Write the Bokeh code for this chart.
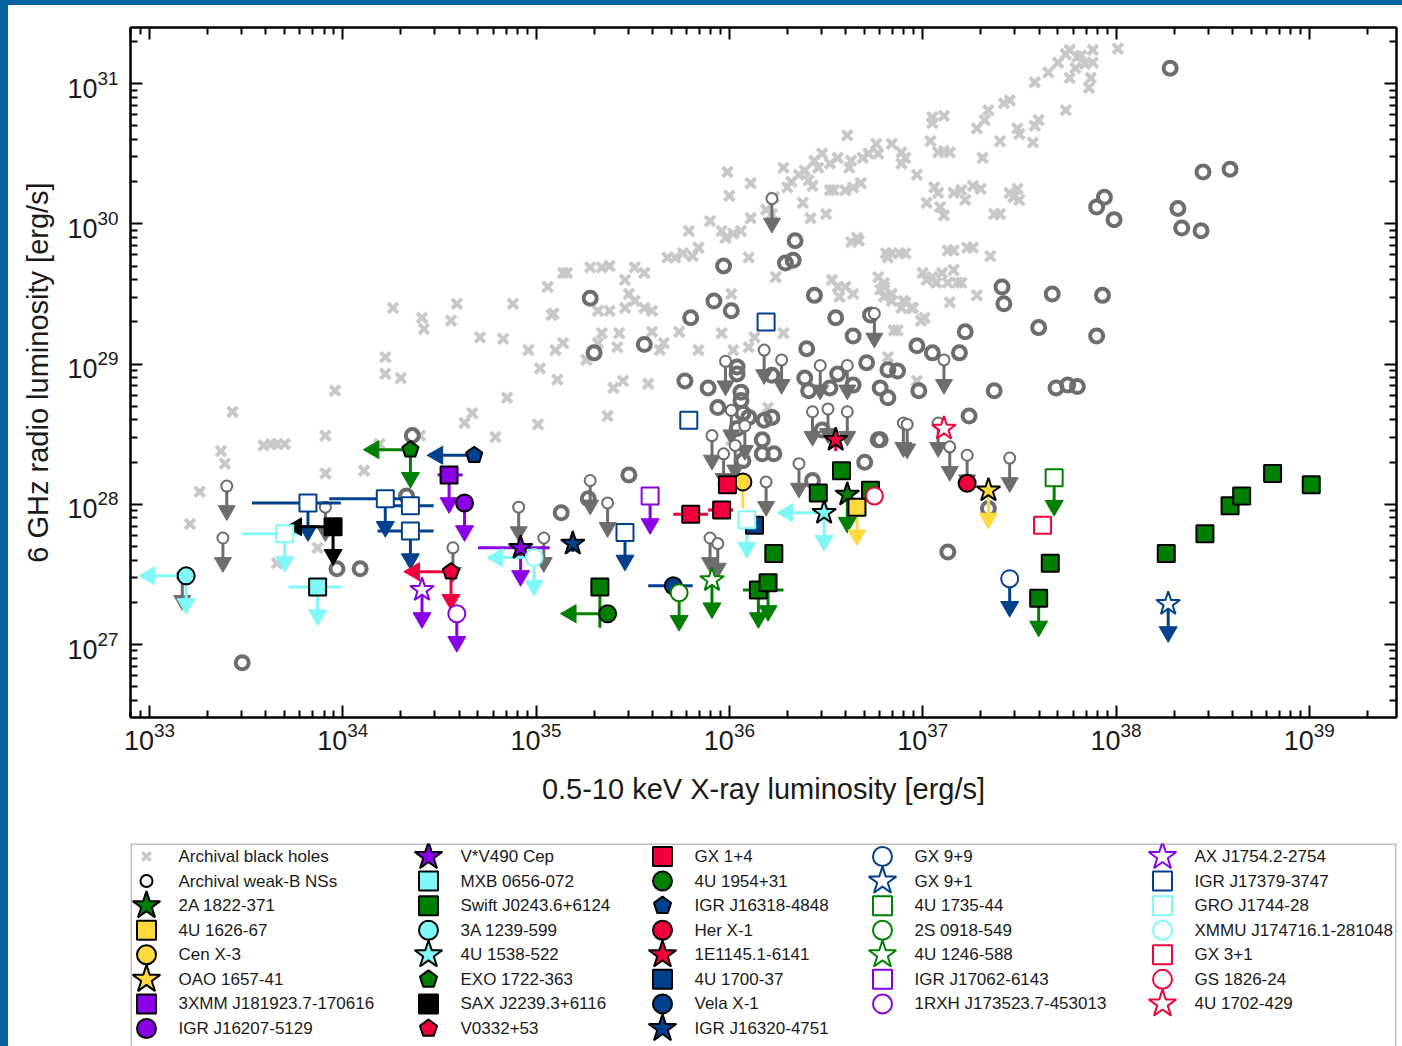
import numpy as np
from bokeh.plotting import figure
from bokeh.models import (Range1d, ColumnDataSource, LogAxis, FixedTicker,
                          CustomJSTickFormatter, Div)
from bokeh.layouts import column, row
from bokeh.core.properties import value
from bokeh.embed import file_html
from bokeh.resources import INLINE

FONT = "Liberation Sans"

# ---------------------------------------------------------------- axes
X_TICK_EXP = [33, 34, 35, 36, 37, 38, 39]
Y_TICK_EXP = [27, 28, 29, 30, 31]
X_LIM_LOG = (32.902, 39.451)
Y_LIM_LOG = (26.48, 31.40)
X_TITLE = "0.5-10 keV X-ray luminosity [erg/s]"
Y_TITLE = "6 GHz radio luminosity [erg/s]"

# ---------------------------------------------------------------- archival black holes (log Lx, log Lr)
BH_LOG_L = [
    (34.26, 29.40), (34.41, 29.33), (34.42, 29.25), (34.56, 29.31), (34.59, 29.43), (34.88, 29.43),
    (35.06, 29.55), (35.14, 29.65), (35.08, 29.35), (34.71, 29.19), (34.83, 29.18), (34.96, 29.10),
    (35.10, 29.10), (35.14, 29.15), (35.02, 28.97), (35.11, 28.89), (34.22, 29.05), (34.22, 28.93),
    (34.30, 28.90), (33.96, 28.81), (34.85, 28.76), (34.67, 28.65), (34.63, 28.58), (35.01, 28.57),
    (34.79, 28.48), (33.43, 28.66), (33.91, 28.49), (33.37, 28.38), (33.39, 28.29), (33.59, 28.42),
    (33.63, 28.43), (33.66, 28.43), (33.70, 28.43), (33.91, 28.22), (34.11, 28.24), (33.26, 28.09),
    (33.21, 27.86), (34.19, 28.43), (34.40, 28.49), (33.87, 27.69), (33.66, 27.58),
    (38.01, 31.25), (37.74, 31.21), (37.76, 31.24), (37.82, 31.20), (37.88, 31.24), (37.84, 31.14),
    (37.88, 31.15), (37.76, 31.04), (37.87, 31.04), (37.86, 30.97), (37.70, 31.15), (37.65, 31.08),
    (37.58, 31.01), (37.74, 30.81), (37.80, 31.19), (37.79, 31.11), (37.45, 30.88), (37.42, 30.86),
    (37.34, 30.81), (37.28, 30.68), (37.32, 30.74), (37.49, 30.68), (37.50, 30.64), (37.58, 30.70),
    (37.60, 30.74), (37.57, 30.58), (37.40, 30.59), (37.31, 30.47), (37.05, 30.76), (37.11, 30.77),
    (37.05, 30.72), (37.04, 30.59), (37.11, 30.52), (37.08, 30.51), (37.14, 30.51), (37.49, 30.25),
    (37.50, 30.17), (37.47, 30.19), (37.40, 30.07), (37.26, 30.27), (37.30, 30.25), (37.20, 30.24),
    (37.16, 30.22), (37.06, 30.26), (37.08, 30.22), (37.02, 30.15), (37.09, 30.12), (37.11, 30.06),
    (37.22, 30.17), (36.97, 30.35), (36.84, 30.57), (36.89, 30.51), (36.91, 30.47), (36.89, 30.43),
    (36.76, 30.57), (36.77, 30.50), (36.72, 30.50), (36.69, 30.47), (36.63, 30.45), (36.62, 30.40),
    (36.56, 30.47), (36.52, 30.43), (36.54, 30.24), (36.60, 30.24), (36.64, 30.26), (36.68, 30.29),
    (36.52, 30.24), (36.61, 30.63), (36.48, 30.50), (36.44, 30.45), (36.46, 30.40), (36.39, 30.38),
    (36.36, 30.35), (36.41, 30.31), (36.43, 30.27), (36.32, 30.30), (36.30, 30.26), (36.28, 30.40),
    (36.23, 30.19), (36.19, 30.10), (36.22, 30.07), (36.38, 30.15), (36.42, 30.04), (36.50, 30.07),
    (36.11, 30.29), (36.00, 30.20), (35.99, 30.37), (36.11, 30.04), (36.10, 29.76), (36.02, 29.93),
    (35.98, 29.90), (35.96, 29.95), (36.06, 29.95), (35.90, 30.02), (35.84, 29.83), (35.79, 29.95),
    (35.81, 29.77), (35.72, 29.76), (35.68, 29.76), (35.76, 29.79), (36.24, 29.62), (36.66, 29.90),
    (36.63, 29.87), (36.67, 29.88), (36.84, 29.79), (36.88, 29.79), (36.91, 29.79), (36.82, 29.76),
    (37.16, 29.81), (37.26, 29.83), (37.35, 29.77), (37.00, 29.65), (37.05, 29.62), (37.10, 29.65),
    (37.16, 29.67), (37.13, 29.58), (37.07, 29.58), (37.02, 29.60), (37.20, 29.58), (37.28, 29.49),
    (37.14, 29.44), (37.01, 29.33), (36.77, 29.62), (36.80, 29.58), (36.78, 29.53), (36.80, 29.48),
    (36.84, 29.50), (36.84, 29.45), (36.53, 29.60), (36.56, 29.55), (36.60, 29.55), (36.64, 29.50),
    (36.57, 29.48), (36.91, 29.44), (36.94, 29.40), (36.87, 29.24), (35.16, 29.65), (35.28, 29.69),
    (35.34, 29.69), (35.38, 29.70), (35.46, 29.60), (35.51, 29.69), (35.56, 29.65), (35.48, 29.50),
    (35.51, 29.45), (35.56, 29.40), (35.60, 29.38), (35.46, 29.40), (35.32, 29.38), (35.38, 29.38),
    (35.34, 29.22), (35.43, 29.22), (35.42, 29.12), (35.32, 29.15), (35.26, 29.03), (35.09, 29.36),
    (35.60, 29.23), (35.66, 29.15), (35.74, 29.23), (35.84, 29.10), (35.96, 29.22), (36.02, 29.10),
    (36.10, 29.12), (36.13, 29.19), (36.01, 29.50), (36.28, 29.22), (35.37, 28.63), (36.20, 28.69),
    (35.45, 28.88), (35.40, 28.83), (35.58, 28.86), (35.64, 29.10), (36.01, 28.46), (37.45, 30.22),
    (37.37, 30.07), (36.81, 29.79), (37.13, 29.81), (37.23, 29.83), (37.18, 29.58), (36.80, 29.55),
    (36.90, 29.45), (36.89, 29.40), (36.95, 29.40), (36.99, 29.31), (36.85, 29.24), (36.82, 29.05),
    (36.97, 28.88),
]

# ---------------------------------------------------------------- archival weak-B NSs, detections
NS_LOG_L = [
    (38.28, 31.11), (38.45, 30.37), (38.59, 30.39), (37.94, 30.19), (37.90, 30.12), (37.99, 30.03),
    (38.32, 30.11), (38.34, 29.97), (38.44, 29.95), (37.41, 29.55), (37.42, 29.43), (37.67, 29.50),
    (37.93, 29.49), (37.60, 29.26), (37.90, 29.20), (37.22, 29.23), (36.97, 29.13), (37.05, 29.08),
    (37.19, 29.08), (36.82, 28.96), (36.87, 28.95), (36.78, 28.83), (36.82, 28.76), (36.98, 28.81),
    (37.37, 28.81), (37.69, 28.83), (37.75, 28.85), (37.80, 28.84), (37.24, 28.63), (36.78, 28.46),
    (37.34, 27.97), (37.13, 27.66), (35.97, 29.70), (36.29, 29.72), (36.33, 29.74), (36.34, 29.88),
    (35.28, 29.47), (35.92, 29.45), (36.01, 29.38), (36.44, 29.49), (35.80, 29.33), (36.55, 29.33),
    (35.56, 29.14), (35.30, 29.08), (36.40, 29.11), (36.64, 29.20), (36.71, 29.01), (35.77, 28.88),
    (35.89, 28.83), (36.04, 28.98), (36.04, 28.93), (36.22, 28.92), (36.06, 28.80), (35.94, 28.69),
    (36.06, 28.74), (36.07, 28.65), (36.10, 28.62), (36.18, 28.60), (36.22, 28.62), (36.04, 28.54),
    (36.17, 28.46), (36.23, 28.36), (36.17, 28.36), (36.07, 28.31), (36.39, 28.90), (36.52, 28.83),
    (36.41, 28.81), (36.64, 28.85), (36.56, 28.93), (36.48, 28.53), (36.77, 28.46), (36.70, 28.30),
    (36.43, 28.17), (35.48, 28.21), (35.27, 28.04), (35.13, 27.94), (33.97, 27.54), (34.09, 27.54),
    (33.48, 26.87), (34.36, 28.49), (34.33, 28.06), (36.73, 29.35),
]

# ---------------------------------------------------------------- archival weak-B NSs, radio upper limits
NS_UL_LOG_L = [
    (33.40, 28.13), (33.38, 27.76), (33.17, 27.49), (33.91, 27.98), (34.57, 27.69), (34.91, 27.98),
    (35.04, 27.76), (35.28, 28.17), (35.37, 28.01), (35.90, 27.76), (35.94, 27.72), (36.19, 28.16),
    (36.36, 28.29), (36.90, 28.58), (35.91, 28.49), (35.97, 28.36), (36.18, 29.10), (36.27, 29.03),
    (35.98, 29.02), (36.01, 28.67), (36.08, 28.56), (36.03, 28.42), (36.75, 29.36), (36.47, 28.99),
    (36.61, 28.99), (36.43, 28.66), (36.51, 28.68), (36.61, 28.66), (37.11, 29.03), (36.92, 28.57),
    (37.08, 28.58), (37.14, 28.41), (37.23, 28.35), (37.45, 28.33), (36.22, 30.18),
]

# ---------------------------------------------------------------- individual sources
SW = "Swift J0243.6+6124"
PT_NAME = [
    "3A 1239-599", "MXB 0656-072", "SAX J2239.3+6116", "GRO J1744-28", "GRO J1744-28",
    "IGR J17379-3747", "IGR J17379-3747", "IGR J17379-3747", "IGR J17379-3747", "IGR J17379-3747",
    "IGR J17379-3747", "IGR J17379-3747", "EXO 1722-363", "IGR J16318-4848", "3XMM J181923.7-170616",
    "IGR J16207-5129", "V0332+53", "AX J1754.2-2754", "1RXH J173523.7-453013", "V*V490 Cep",
    "XMMU J174716.1-281048", "IGR J16320-4751", "IGR J17062-6143", "GX 1+4", "GX 1+4",
    "GX 1+4", "Cen X-3", "4U 1700-37", "2S 0918-549", "Vela X-1",
    "4U 1246-588", SW, SW, SW, SW,
    SW, SW, SW, SW, SW,
    SW, SW, SW, SW, SW,
    SW, "4U 1954+31", "4U 1538-522", "2A 1822-371", "4U 1626-67",
    "GS 1826-24", "1E1145.1-6141", "4U 1702-429", "Her X-1", "OAO 1657-41",
    "4U 1735-44", "GX 3+1", "GX 9+9", "GX 9+1",
]
PT_LOG_LX = [
    33.19, 33.87, 33.95, 33.70, 36.09,
    33.82, 34.22, 34.35, 34.35, 35.46,
    35.79, 36.19, 34.35, 34.68, 34.55,
    34.63, 34.56, 34.41, 34.59, 34.92,
    34.99, 35.19, 35.59, 35.80, 35.96,
    35.99, 36.07, 36.13, 35.74, 35.71,
    35.91, 35.33, 36.15, 36.20, 36.23,
    36.46, 36.58, 36.73, 37.66, 37.60,
    38.26, 38.46, 38.59, 38.65, 38.81,
    39.01, 35.37, 36.49, 36.61, 36.66,
    36.75, 36.55, 37.11, 37.23, 37.34,
    37.68, 37.62, 37.45, 38.27,
]
PT_LOG_LR = [
    27.49, 27.41, 27.84, 27.79, 27.89,
    28.01, 28.04, 27.99, 27.81, 27.80,
    28.60, 29.30, 28.39, 28.35, 28.21,
    28.01, 27.52, 27.39, 27.22, 27.69,
    27.62, 27.72, 28.06, 27.93, 27.96,
    28.14, 28.16, 27.85, 27.37, 27.42,
    27.46, 27.41, 27.39, 27.44, 27.65,
    28.08, 28.24, 28.10, 27.58, 27.33,
    27.65, 27.79, 27.99, 28.06, 28.22,
    28.14, 27.22, 27.94, 28.07, 27.98,
    28.06, 28.46, 28.54, 28.15, 28.10,
    28.19, 27.85, 27.47, 27.29,
]
PT_RADIO_UL = [
    1, 1, 1, 1, 1,
    1, 1, 0, 1, 1,
    0, 0, 1, 0, 1,
    1, 1, 1, 1, 1,
    1, 0, 1, 0, 0,
    0, 0, 0, 1, 0,
    1, 0, 1, 1, 0,
    0, 0, 0, 0, 1,
    0, 0, 0, 0, 0,
    0, 0, 1, 1, 1,
    0, 0, 0, 0, 1,
    1, 0, 1, 1,
]
PT_XRAY_UL = [
    1, 0, 1, 0, 0,
    0, 0, 0, 0, 0,
    0, 0, 1, 1, 0,
    0, 1, 0, 0, 0,
    1, 0, 0, 0, 0,
    0, 0, 0, 0, 0,
    0, 0, 0, 0, 0,
    0, 0, 0, 0, 0,
    0, 0, 0, 0, 0,
    0, 1, 1, 0, 0,
    0, 0, 0, 0, 0,
    0, 0, 0, 0,
]
N = None
PT_LX_LO = [
    N, 33.72, N, 33.48, N,
    33.53, 33.93, 34.22, 34.18, N,
    N, N, N, N, 34.49,
    N, N, N, N, 34.70,
    N, N, N, 35.71, 35.89,
    35.94, N, N, N, 35.58,
    N, N, 36.07, N, N,
    N, N, N, N, N,
    N, N, N, N, N,
    N, N, N, N, N,
    N, N, N, N, N,
    N, N, N, N,
]
PT_LX_HI = [
    N, 33.99, N, 33.77, N,
    33.99, 34.35, 34.47, 34.47, N,
    N, N, N, N, 34.62,
    N, N, N, N, 35.07,
    N, N, N, 35.89, 36.02,
    36.05, N, N, N, 35.81,
    N, N, 36.28, N, N,
    N, N, N, N, N,
    N, N, N, N, N,
    N, N, N, N, N,
    N, N, N, N, N,
    N, N, N, N,
]
PT_LR_LO = [
    N, N, N, N, N,
    N, N, N, N, N,
    N, N, N, N, N,
    N, N, N, N, N,
    N, 27.66, N, N, N,
    N, 27.97, N, N, N,
    N, 27.12, N, N, N,
    N, N, N, N, N,
    N, N, N, N, N,
    N, N, N, N, N,
    N, 28.38, N, N, N,
    N, N, N, N,
]

# ---------------------------------------------------------------- legend (column by column)
LEGEND_COLUMNS = [
    ["Archival black holes", "Archival weak-B NSs", "2A 1822-371", "4U 1626-67", "Cen X-3",
     "OAO 1657-41", "3XMM J181923.7-170616", "IGR J16207-5129"],
    ["V*V490 Cep", "MXB 0656-072", "Swift J0243.6+6124", "3A 1239-599", "4U 1538-522",
     "EXO 1722-363", "SAX J2239.3+6116", "V0332+53"],
    ["GX 1+4", "4U 1954+31", "IGR J16318-4848", "Her X-1", "1E1145.1-6141", "4U 1700-37",
     "Vela X-1", "IGR J16320-4751"],
    ["GX 9+9", "GX 9+1", "4U 1735-44", "2S 0918-549", "4U 1246-588", "IGR J17062-6143",
     "1RXH J173523.7-453013"],
    ["AX J1754.2-2754", "IGR J17379-3747", "GRO J1744-28", "XMMU J174716.1-281048", "GX 3+1",
     "GS 1826-24", "4U 1702-429"],
]

# ---------------------------------------------------------------- styles
GREEN = "#008000"
YELLOW = "#ffd93d"
PURPLE = "#8a00e6"
CYAN = "#80f8f8"
NAVY = "#00408c"
RED = "#f2003c"
BLACK = "#000000"
WHITE = "#ffffff"
GRAY_NS = "#6d6d6d"
GRAY_BH = "#c8c8c8"
FRAME_BLUE = "#0563a0"
TEXT = "#1a1a1a"

STYLE = {
    "2A 1822-371": ("star", GREEN, BLACK), "4U 1626-67": ("square", YELLOW, BLACK),
    "Cen X-3": ("circle", YELLOW, BLACK), "OAO 1657-41": ("star", YELLOW, BLACK),
    "3XMM J181923.7-170616": ("square", PURPLE, BLACK), "IGR J16207-5129": ("circle", PURPLE, BLACK),
    "V*V490 Cep": ("star", PURPLE, BLACK), "MXB 0656-072": ("square", CYAN, BLACK),
    "Swift J0243.6+6124": ("square", GREEN, BLACK), "3A 1239-599": ("circle", CYAN, BLACK),
    "4U 1538-522": ("star", CYAN, BLACK), "EXO 1722-363": ("pentagon", GREEN, BLACK),
    "SAX J2239.3+6116": ("square", BLACK, BLACK), "V0332+53": ("pentagon", RED, BLACK),
    "GX 1+4": ("square", RED, BLACK), "4U 1954+31": ("circle", GREEN, BLACK),
    "IGR J16318-4848": ("pentagon", NAVY, BLACK), "Her X-1": ("circle", RED, BLACK),
    "1E1145.1-6141": ("star", RED, BLACK), "4U 1700-37": ("square", NAVY, BLACK),
    "Vela X-1": ("circle", NAVY, BLACK), "IGR J16320-4751": ("star", NAVY, BLACK),
    "GX 9+9": ("circle", WHITE, NAVY), "GX 9+1": ("star", WHITE, NAVY),
    "4U 1735-44": ("square", WHITE, GREEN), "2S 0918-549": ("circle", WHITE, GREEN),
    "4U 1246-588": ("star", WHITE, GREEN), "IGR J17062-6143": ("square", WHITE, PURPLE),
    "1RXH J173523.7-453013": ("circle", WHITE, PURPLE), "AX J1754.2-2754": ("star", WHITE, PURPLE),
    "IGR J17379-3747": ("square", WHITE, NAVY), "GRO J1744-28": ("square", WHITE, CYAN),
    "XMMU J174716.1-281048": ("circle", WHITE, CYAN), "GX 3+1": ("square", WHITE, RED),
    "GS 1826-24": ("circle", WHITE, RED), "4U 1702-429": ("star", WHITE, RED),
}
PLOT_SIZE = {"star": 25, "square": 17, "circle": 17, "pentagon": 17}
LEG_SIZE = {"star": 29, "square": 19, "circle": 19, "pentagon": 18}
PENTAGON_ANGLE = 0.0   # one vertex pointing up


def main_color(name):
    shape, fill, line = STYLE[name]
    return line if fill == WHITE else fill


def draw_marker(fig, xs, ys, shape, fill, line, size, lw):
    xs = list(xs)
    ys = list(ys)
    if shape == "pentagon":
        try:
            from bokeh.models import Ngon
            src = ColumnDataSource(dict(x=xs, y=ys))
            g = Ngon(x="x", y="y", radius=size / 2.0, radius_units="screen", n=5,
                     angle=PENTAGON_ANGLE, fill_color=fill, line_color=line, line_width=lw)
            return fig.add_glyph(src, g)
        except Exception:
            return fig.scatter(xs, ys, marker="hex", size=size, angle=np.pi / 2,
                               fill_color=fill, line_color=line, line_width=lw)
    return fig.scatter(xs, ys, marker=shape, size=size, fill_color=fill,
                       line_color=line, line_width=lw)


def L(v):
    return 10.0 ** np.asarray(v, dtype=float)


# ================================================================ main figure
BORDER_L, BORDER_R = 122, 6
p = figure(width=1394, height=838, x_axis_type="log", y_axis_type="log",
           x_range=Range1d(10.0 ** X_LIM_LOG[0], 10.0 ** X_LIM_LOG[1]),
           y_range=Range1d(10.0 ** Y_LIM_LOG[0], 10.0 ** Y_LIM_LOG[1]),
           output_backend="svg", toolbar_location=None, title=None,
           min_border_left=BORDER_L, min_border_right=BORDER_R, min_border_top=22,
           min_border_bottom=126)
p.grid.visible = False
p.outline_line_color = "black"
p.outline_line_width = 2
p.background_fill_color = "white"
p.border_fill_color = "white"
p.add_layout(LogAxis(), "above")
p.add_layout(LogAxis(), "right")

x_minor = [k * 10.0 ** e for e in range(32, 40) for k in range(2, 10)
           if X_LIM_LOG[0] < np.log10(k * 10.0 ** e) < X_LIM_LOG[1]]
y_minor = [k * 10.0 ** e for e in range(26, 32) for k in range(2, 10)
           if Y_LIM_LOG[0] < np.log10(k * 10.0 ** e) < Y_LIM_LOG[1]]
x_ticker = FixedTicker(ticks=[10.0 ** e for e in X_TICK_EXP], minor_ticks=x_minor)
y_ticker = FixedTicker(ticks=[10.0 ** e for e in Y_TICK_EXP], minor_ticks=y_minor)

for ax in list(p.below) + list(p.above):
    ax.ticker = x_ticker
for ax in list(p.left) + list(p.right):
    ax.ticker = y_ticker
for ax in list(p.below) + list(p.above) + list(p.left) + list(p.right):
    ax.axis_line_width = 2
    ax.axis_line_color = "black"
    ax.major_tick_line_width = 2
    ax.minor_tick_line_width = 2
    ax.major_tick_in = 12
    ax.major_tick_out = 0
    ax.minor_tick_in = 7
    ax.minor_tick_out = 0
    ax.major_label_text_font = FONT
    ax.major_label_text_font_size = "27px"
    ax.major_label_text_color = TEXT
for ax in list(p.above) + list(p.right):
    ax.formatter = CustomJSTickFormatter(code="return ''")
    ax.major_label_text_font_size = "0px"
    ax.major_label_standoff = 0

xa = p.below[0]
xa.major_label_standoff = 4
xa.axis_label = X_TITLE
xa.axis_label_text_font = FONT
xa.axis_label_text_font_size = "29px"
xa.axis_label_text_font_style = "normal"
xa.axis_label_text_color = TEXT
xa.axis_label_standoff = 20
ya = p.left[0]
ya.major_label_standoff = 12
ya.axis_label = Y_TITLE
ya.axis_label_text_font = FONT
ya.axis_label_text_font_size = "29px"
ya.axis_label_text_font_style = "normal"
ya.axis_label_text_color = TEXT
ya.axis_label_standoff = 10

# arrow geometry (in dex, from marker centre to arrow-head centre)
GRAY_ARROW_DEX = 0.175
SRC_ARROW_DEX = 0.20
SRC_LEFT_DEX = 0.19

# archival black holes
bh = np.array(BH_LOG_L)
p.scatter(L(bh[:, 0]), L(bh[:, 1]), marker="x", size=14, line_color=GRAY_BH, line_width=4)

# archival NSs
nsul = np.array(NS_UL_LOG_L)
ux, uy, uyc = L(nsul[:, 0]), L(nsul[:, 1]), L(nsul[:, 1] - GRAY_ARROW_DEX)
p.segment(x0=ux, y0=uy, x1=ux, y1=uyc, line_color=GRAY_NS, line_width=3)
p.scatter(ux, uyc, marker="inverted_triangle", size=17, fill_color=GRAY_NS, line_color=GRAY_NS)
ns = np.array(NS_LOG_L)
p.scatter(L(ns[:, 0]), L(ns[:, 1]), marker="circle", size=13, fill_color=None,
          line_color=GRAY_NS, line_width=4)
p.scatter(ux, uy, marker="circle", size=11, fill_color="white", line_color=GRAY_NS, line_width=2)

# individual sources
lx = np.array(PT_LOG_LX, dtype=float)
lr = np.array(PT_LOG_LR, dtype=float)
xlo = np.array([np.nan if v is None else v for v in PT_LX_LO])
xhi = np.array([np.nan if v is None else v for v in PT_LX_HI])
ylo = np.array([np.nan if v is None else v for v in PT_LR_LO])
cols = np.array([main_color(n) for n in PT_NAME])
rul = np.array(PT_RADIO_UL) == 1
xul = np.array(PT_XRAY_UL) == 1

m = ~np.isnan(xlo)
p.segment(x0=L(xlo[m]), y0=L(lr[m]), x1=L(xhi[m]), y1=L(lr[m]), line_color=list(cols[m]), line_width=3)
m = ~np.isnan(ylo)
p.segment(x0=L(lx[m]), y0=L(lr[m]), x1=L(lx[m]), y1=L(ylo[m]), line_color=list(cols[m]), line_width=3)
# radio upper limits (down arrows)
p.segment(x0=L(lx[rul]), y0=L(lr[rul]), x1=L(lx[rul]), y1=L(lr[rul] - SRC_ARROW_DEX),
          line_color=list(cols[rul]), line_width=3)
p.scatter(L(lx[rul]), L(lr[rul] - SRC_ARROW_DEX), marker="inverted_triangle", size=18,
          fill_color=list(cols[rul]), line_color=list(cols[rul]))
# X-ray upper limits (left arrows)
p.segment(x0=L(lx[xul]), y0=L(lr[xul]), x1=L(lx[xul] - SRC_LEFT_DEX), y1=L(lr[xul]),
          line_color=list(cols[xul]), line_width=3)
p.scatter(L(lx[xul] - SRC_LEFT_DEX), L(lr[xul]), marker="triangle", size=18, angle=np.pi / 2,
          fill_color=list(cols[xul]), line_color=list(cols[xul]))

names_arr = np.array(PT_NAME)
for colnames in LEGEND_COLUMNS:
    for name in colnames:
        if name not in STYLE:
            continue
        idx = names_arr == name
        shape, fill, line = STYLE[name]
        draw_marker(p, L(lx[idx]), L(lr[idx]), shape, fill, line, PLOT_SIZE[shape], 2)

# ================================================================ legend figure
# its frame lines up with the main frame: x in page pixels 130..1396, y measured upward
LEG_H = 203
LEG_X0, LEG_X1 = 130, 1396
leg = figure(width=1394, height=LEG_H, x_range=Range1d(LEG_X0, LEG_X1), y_range=Range1d(0, LEG_H),
             output_backend="svg", toolbar_location=None, title=None,
             min_border_left=BORDER_L, min_border_right=BORDER_R, min_border_top=0,
             min_border_bottom=0, x_axis_location=None, y_axis_location=None)
leg.grid.visible = False
leg.outline_line_color = None
leg.border_fill_color = "white"
leg.background_fill_color = "white"

LEG_COL_X = [146, 428, 662, 882, 1162]
LEG_ROW0, LEG_ROW_STEP, LEG_TEXT_DX = 13.0, 24.57, 32

leg.line(x=[LEG_X0 + 0.5, LEG_X0 + 0.5, LEG_X1 - 0.5, LEG_X1 - 0.5],
         y=[-5, LEG_H - 0.5, LEG_H - 0.5, -5], line_color="#808080", line_width=1)

tx, ty, tt = [], [], []
for c, colnames in enumerate(LEGEND_COLUMNS):
    for r, name in enumerate(colnames):
        mx, my = LEG_COL_X[c], LEG_H - (LEG_ROW0 + r * LEG_ROW_STEP)
        if name == "Archival black holes":
            leg.scatter([mx], [my], marker="x", size=12, line_color=GRAY_BH, line_width=3.5)
        elif name == "Archival weak-B NSs":
            leg.scatter([mx], [my], marker="circle", size=12, fill_color="white",
                        line_color=BLACK, line_width=2)
        else:
            shape, fill, line = STYLE[name]
            draw_marker(leg, [mx], [my], shape, fill, line, LEG_SIZE[shape], 2)
        tx.append(mx + LEG_TEXT_DX)
        ty.append(my)
        tt.append(name)
leg.text(x=tx, y=ty, text=tt, text_font=value(FONT), text_font_size="17px",
         text_baseline="middle", text_align="left", text_color=TEXT)

# blue page frame seen along the top and left edges of the reference
top_strip = Div(width=1394, height=5, margin=0, styles={"background-color": FRAME_BLUE})
left_strip = Div(width=8, height=1046, margin=0, styles={"background-color": FRAME_BLUE})

layout = row(left_strip, column(top_strip, p, leg, spacing=0), spacing=0)
open("out.html", "w").write(file_html(layout, INLINE))
